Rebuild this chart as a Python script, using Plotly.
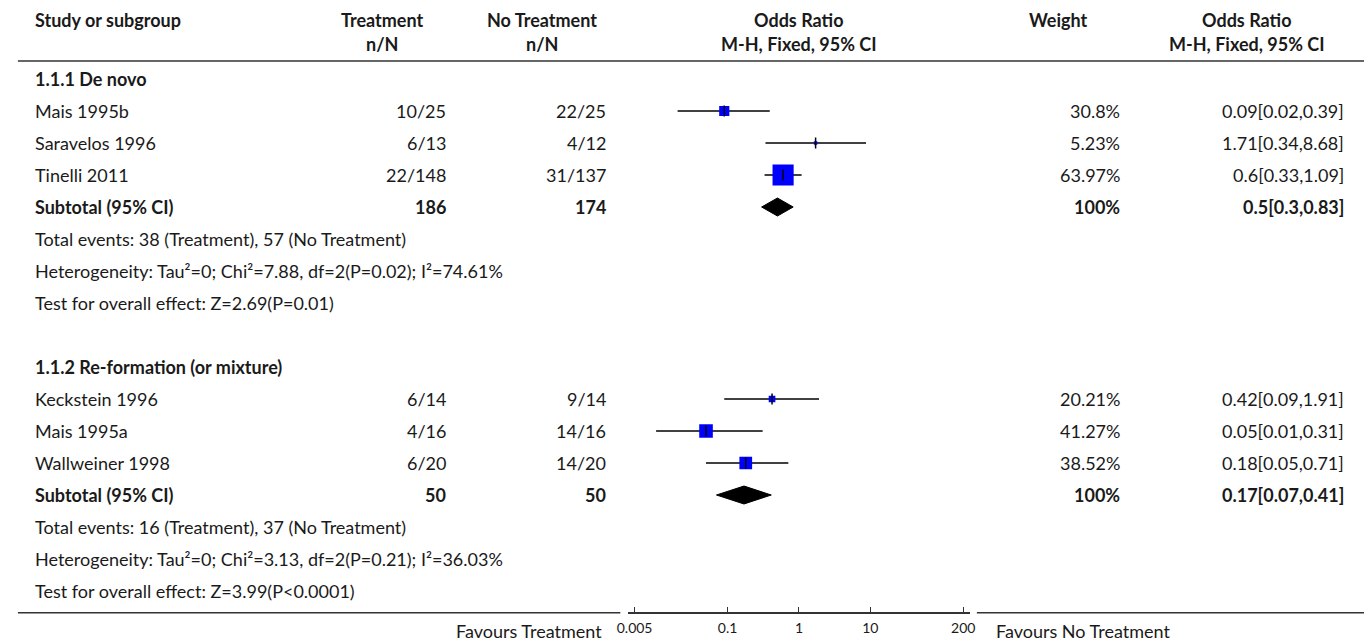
import plotly.graph_objects as go

W, H = 1370, 643

# ---- data -------------------------------------------------------------
g1_title = "1.1.1 De novo"
g1_studies = ["Mais 1995b", "Saravelos 1996", "Tinelli 2011"]
g1_trt = ["10/25", "6/13", "22/148"]
g1_ctl = ["22/25", "4/12", "31/137"]
g1_weight = [30.8, 5.23, 63.97]
g1_or = [0.09, 1.71, 0.6]
g1_lo = [0.02, 0.34, 0.33]
g1_hi = [0.39, 8.68, 1.09]
g1_n_trt, g1_n_ctl = 186, 174
g1_sub = [0.5, 0.3, 0.83]
g1_stats = [
    "Total events: 38 (Treatment), 57 (No Treatment)",
    "Heterogeneity: Tau²=0; Chi²=7.88, df=2(P=0.02); I²=74.61%",
    "Test for overall effect: Z=2.69(P=0.01)",
]

g2_title = "1.1.2 Re-formation (or mixture)"
g2_studies = ["Keckstein 1996", "Mais 1995a", "Wallweiner 1998"]
g2_trt = ["6/14", "4/16", "6/20"]
g2_ctl = ["9/14", "14/16", "14/20"]
g2_weight = [20.21, 41.27, 38.52]
g2_or = [0.42, 0.05, 0.18]
g2_lo = [0.09, 0.01, 0.05]
g2_hi = [1.91, 0.31, 0.71]
g2_n_trt, g2_n_ctl = 50, 50
g2_sub = [0.17, 0.07, 0.41]
g2_stats = [
    "Total events: 16 (Treatment), 37 (No Treatment)",
    "Heterogeneity: Tau²=0; Chi²=3.13, df=2(P=0.21); I²=36.03%",
    "Test for overall effect: Z=3.99(P<0.0001)",
]

tick_vals = [0.005, 0.1, 1, 10, 200]
tick_text = ["0.005", "0.1", "1", "10", "200"]

# ---- layout helpers ---------------------------------------------------
ROW0_PX, ROW_H = 79, 32          # centre of first body row, row pitch
FONT = "Lato"
TXT = "#1a1a1a"
FS = 18


def px_x(x):
    return x / W


def px_y(y):
    return 1 - y / H


def row_of_px(y):
    return (y - ROW0_PX) / ROW_H


COL_STUDY = 22
COL_TRT = 442
COL_CTL = 604
COL_WT = 1125
COL_OR = 1352
TABLE_LEFT = 7

fig = go.Figure()
ann = []


def text(x, row, s, anchor="left", bold=False, size=FS):
    ann.append(dict(
        x=px_x(x), y=row, xref="paper", yref="y", text=f"<b>{s}</b>" if bold else s,
        showarrow=False, xanchor=anchor, yanchor="middle",
        font=dict(family=FONT, size=size, color=TXT),
    ))


def fmt_or(v, lo, hi):
    return f"{v:g}[{lo:g},{hi:g}]"


# column headers
hdr1, hdr2 = row_of_px(20), row_of_px(44)
text(COL_STUDY, hdr1, "Study or subgroup", bold=True)
text(376, hdr1, "Treatment", "center", True)
text(376, hdr2, "n/N", "center", True)
text(538, hdr1, "No Treatment", "center", True)
text(538, hdr2, "n/N", "center", True)
text(798, hdr1, "Odds Ratio", "center", True)
text(798, hdr2, "M-H, Fixed, 95% CI", "center", True)
text(1061, hdr1, "Weight", "center", True)
text(1252, hdr1, "Odds Ratio", "center", True)
text(1252, hdr2, "M-H, Fixed, 95% CI", "center", True)


def draw_group(start, title, studies, trt, ctl, wt, orv, lo, hi, n_trt, n_ctl, sub, stats):
    text(COL_STUDY, start, title, bold=True)
    rows = [start + 1 + i for i in range(len(studies))]
    for r, s, t, c, w, o, l, h in zip(rows, studies, trt, ctl, wt, orv, lo, hi):
        text(COL_STUDY, r, s)
        text(COL_TRT, r, t, "right")
        text(COL_CTL, r, c, "right")
        text(COL_WT, r, f"{w:g}%", "right")
        text(COL_OR, r, fmt_or(o, l, h), "right")
        # confidence interval
        fig.add_trace(go.Scatter(
            x=[l, h], y=[r, r], mode="lines",
            line=dict(color="black", width=1.5), hoverinfo="skip", showlegend=False))
    # weighted squares
    fig.add_trace(go.Scatter(
        x=orv, y=rows, mode="markers", showlegend=False, hoverinfo="skip",
        marker=dict(symbol="square", color="#0000ff", opacity=1,
                    size=[max(w * 0.33, 3.5) for w in wt], line=dict(width=0))))
    # point-estimate ticks
    fig.add_trace(go.Scatter(
        x=orv, y=rows, mode="markers", showlegend=False, hoverinfo="skip",
        marker=dict(symbol="line-ns", size=8, color="black", opacity=1,
                    line=dict(width=1.5, color="black"))))
    # subtotal diamond
    sr = start + 1 + len(studies)
    text(COL_STUDY, sr, "Subtotal (95% CI)", bold=True)
    text(COL_TRT, sr, str(n_trt), "right", True)
    text(COL_CTL, sr, str(n_ctl), "right", True)
    text(COL_WT, sr, "100%", "right", True)
    text(COL_OR, sr, fmt_or(*sub), "right", True)
    est, dlo, dhi = sub
    half = 9 / ROW_H
    fig.add_trace(go.Scatter(
        x=[dlo, est, dhi, est, dlo], y=[sr, sr - half, sr, sr + half, sr],
        mode="lines", fill="toself", fillcolor="black",
        line=dict(color="black", width=1), hoverinfo="skip", showlegend=False))
    for k, s in enumerate(stats):
        text(COL_STUDY, sr + 1 + k, s)
    return sr + 1 + len(stats)


end1 = draw_group(0, g1_title, g1_studies, g1_trt, g1_ctl, g1_weight, g1_or, g1_lo, g1_hi,
                  g1_n_trt, g1_n_ctl, g1_sub, g1_stats)
draw_group(end1 + 1, g2_title, g2_studies, g2_trt, g2_ctl, g2_weight, g2_or, g2_lo, g2_hi,
           g2_n_trt, g2_n_ctl, g2_sub, g2_stats)

# favours labels under the axis
for x, s, a in [(600, "Favours Treatment", "right"), (995, "Favours No Treatment", "left")]:
    ann.append(dict(x=px_x(x), y=px_y(631), xref="paper", yref="paper", text=s,
                    showarrow=False, xanchor=a, yanchor="middle",
                    font=dict(family=FONT, size=18, color=TXT)))

AXIS_Y = 612.7
shapes = [
    # header rule
    dict(type="line", xref="paper", yref="paper", x0=px_x(TABLE_LEFT), x1=1,
         y0=px_y(61), y1=px_y(61), line=dict(color="#333", width=1.5)),
    # bottom rule either side of the axis
    dict(type="line", xref="paper", yref="paper", x0=px_x(TABLE_LEFT), x1=px_x(617),
         y0=px_y(AXIS_Y), y1=px_y(AXIS_Y), line=dict(color="#333", width=1.5)),
    dict(type="line", xref="paper", yref="paper", x0=px_x(978), x1=1,
         y0=px_y(AXIS_Y), y1=px_y(AXIS_Y), line=dict(color="#333", width=1.5)),
    # line of no effect (OR = 1, log10 -> 0)
    dict(type="line", xref="x", yref="paper", x0=0, x1=0, y0=px_y(AXIS_Y), y1=px_y(63),
         line=dict(color="#999", width=1.5)),
]

fig.update_layout(
    width=W, height=H, margin=dict(l=0, r=0, t=0, b=0),
    paper_bgcolor="white", plot_bgcolor="white",
    annotations=ann, shapes=shapes,
    xaxis=dict(type="log", range=[-2.39, 2.39], domain=[px_x(625), px_x(970.7)],
               anchor="free", position=px_y(AXIS_Y),
               tickvals=tick_vals, ticktext=tick_text, ticks="inside", ticklen=5,
               tickcolor="#333", tickwidth=1, showline=True, linecolor="#333", linewidth=1.5,
               showgrid=False, zeroline=False, ticklabelstandoff=3,
               tickfont=dict(family=FONT, size=14, color=TXT)),
    yaxis=dict(range=[row_of_px(H), row_of_px(0)], domain=[0, 1], visible=False,
               showgrid=False, zeroline=False),
)

fig.write_html("out.html")
